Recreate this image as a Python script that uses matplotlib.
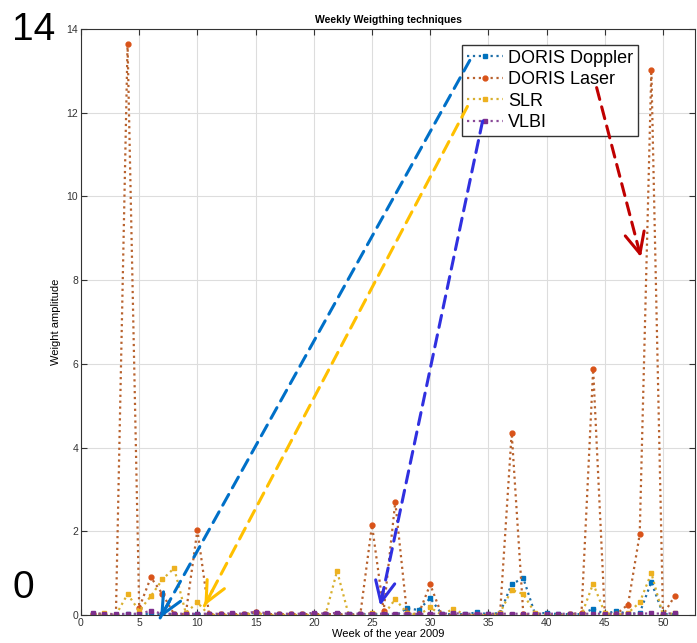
import numpy as np
import matplotlib
matplotlib.use("Agg")
import matplotlib.pyplot as plt

plt.rcParams["font.family"] = ["Liberation Sans", "DejaVu Sans"]

weeks = np.arange(1, 52)

doris_doppler = [0.02, 0.0, 0.0, 0.02, 0.02, 0.03, 0.02, 0.02, 0.02, 0.02,
                 0.02, 0.02, 0.02, 0.02, 0.05, 0.02, 0.02, 0.02, 0.02, 0.02,
                 0.02, 0.02, 0.02, 0.02, 0.02, 0.03, -0.02, 0.16, 0.12, 0.40,
                 0.02, 0.02, 0.02, 0.06, 0.02, 0.05, 0.74, 0.88, 0.03, 0.05,
                 0.02, 0.02, 0.02, 0.15, 0.02, 0.10, 0.02, 0.05, 0.79, 0.02,
                 0.02]
doris_laser = [0.02, 0.0, 0.0, 13.65, 0.17, 0.90, 0.50, 0.02, 0.02, 2.03,
               0.02, 0.02, 0.02, 0.02, 0.07, 0.02, 0.02, 0.02, 0.02, 0.02,
               0.02, 0.02, 0.0, 0.02, 2.15, 0.10, 2.70, 0.05, 0.02, 0.73,
               0.0, 0.0, 0.0, 0.0, 0.0, 0.02, 4.35, 0.02, 0.0, 0.0,
               0.0, 0.02, 0.05, 5.87, 0.02, 0.02, 0.25, 1.93, 13.02, 0.0,
               0.45]
slr = [0.0, 0.05, 0.0, 0.50, 0.10, 0.45, 0.85, 1.12, 0.05, 0.30,
       0.0, 0.0, 0.0, 0.0, 0.05, 0.0, 0.0, 0.0, 0.0, 0.0,
       0.0, 1.05, 0.0, 0.0, 0.05, 0.0, 0.38, 0.05, 0.0, 0.18,
       0.0, 0.15, 0.0, 0.0, 0.0, 0.05, 0.60, 0.50, 0.05, 0.0,
       0.0, 0.0, 0.0, 0.75, 0.05, 0.0, 0.05, 0.30, 1.00, 0.0,
       0.05]
vlbi = [0.04, 0.03, 0.02, 0.03, 0.03, 0.10, 0.03, 0.03, 0.03, 0.03,
        0.03, 0.03, 0.04, 0.03, 0.08, 0.04, 0.03, 0.03, 0.03, 0.05,
        0.03, 0.05, 0.03, 0.03, 0.03, 0.03, 0.03, 0.03, 0.02, 0.03,
        0.03, 0.04, 0.03, 0.03, 0.03, 0.03, 0.03, 0.03, 0.03, 0.03,
        0.03, 0.03, 0.03, 0.03, 0.03, 0.03, 0.03, 0.03, 0.04, 0.03,
        0.04]

series = [("DORIS Doppler", doris_doppler, "#0072BD", "#1f6fa8", "s"),
          ("DORIS Laser", doris_laser, "#D95319", "#b8622e", "o"),
          ("SLR", slr, "#EDB120", "#d8b030", "s"),
          ("VLBI", vlbi, "#7E2F8E", "#8a4a98", "s")]

# annotation arrows (start -> end, in data units)
arrows = [((33.4, 13.25), (6.8, -0.07), "#0070C8"),
          ((33.2, 12.15), (10.6, 0.22), "#FFC000"),
          ((34.5, 11.8), (25.7, 0.22), "#3030E0"),
          ((44.3, 12.6), (48.1, 8.55), "#C00000")]

fig = plt.figure(figsize=(6.97, 6.43), dpi=100)
ax = fig.add_axes([81 / 697, 1 - 615 / 643, (695 - 81) / 697, (615 - 29) / 643])

for name, vals, mcol, lcol, mk in series:
    ax.plot(weeks, vals, ls=":", lw=1.6, color=lcol, marker=mk, ms=3.5,
            mfc=mcol, mec=mcol, label=name)

leg = ax.legend(loc="upper left", bbox_to_anchor=((462 - 81) / 614, 1 - (45 - 29) / 586),
                fontsize=13, frameon=True, fancybox=False, borderaxespad=0,
                handlelength=2.0, handletextpad=0.3, labelspacing=0.25,
                borderpad=0.25, framealpha=1)
leg.get_frame().set_edgecolor("#333333")
leg.get_frame().set_linewidth(1.0)

for (x0, y0), (x1, y1), col in arrows:
    # dashed shaft
    ax.annotate("", xy=(x1, y1), xytext=(x0, y0), annotation_clip=False, zorder=6,
                arrowprops=dict(arrowstyle="-", ls=(0, (4, 2.5)), lw=2.2, color=col,
                                shrinkA=0, shrinkB=0))
    # solid open head
    hx, hy = x1 - 0.03 * (x1 - x0), y1 - 0.03 * (y1 - y0)
    ax.annotate("", xy=(x1, y1), xytext=(hx, hy), annotation_clip=False, zorder=6,
                arrowprops=dict(arrowstyle="->,head_length=1.5,head_width=0.7",
                                lw=2.2, color=col, shrinkA=0, shrinkB=0))

ax.set_xlim(0, 52.75)
ax.set_ylim(0, 14)
ax.set_xticks(np.arange(0, 51, 5))
ax.set_yticks(np.arange(0, 15, 2))
ax.tick_params(direction="in", length=4, labelsize=7.5, colors="#333333",
               top=True, right=True, pad=2)
ax.grid(color="#dddddd", lw=0.8)
for s in ax.spines.values():
    s.set_color("#333333")
    s.set_linewidth(0.8)

ax.set_title("Weekly Weigthing techniques", fontsize=7.5, fontweight="bold", pad=4)
ax.set_xlabel("Week of the year 2009", fontsize=8, labelpad=1)
ax.set_ylabel("Weight amplitude", fontsize=8, labelpad=4)

fig.text(12 / 697, 1 - 30 / 643, "14", fontsize=28, va="center", ha="left")
fig.text(12 / 697, 1 - 588 / 643, "0", fontsize=28, va="center", ha="left")

fig.savefig("out.png", dpi=100)
